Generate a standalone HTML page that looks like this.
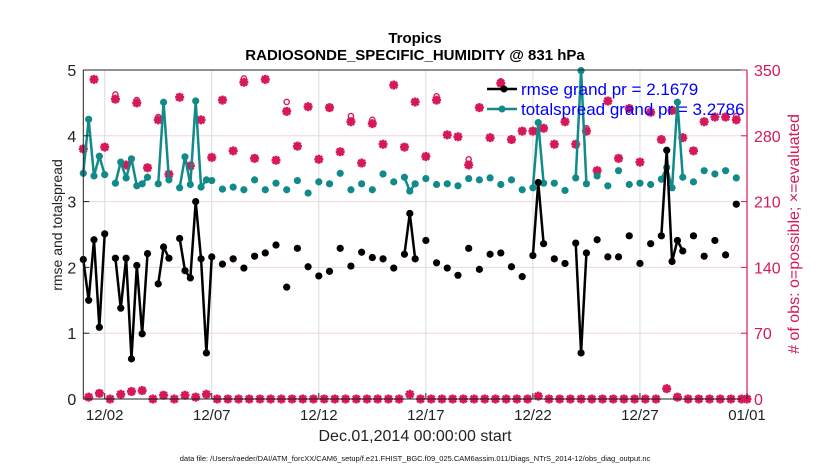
<!DOCTYPE html>
<html><head><meta charset="utf-8"><style>
body{margin:0;background:#fff;width:830px;height:470px;overflow:hidden}
svg{font-family:"Liberation Sans",sans-serif}
</style></head><body>
<svg id="chart" width="830" height="470" xmlns="http://www.w3.org/2000/svg">
<text x="415" y="43" text-anchor="middle" font-size="15" font-weight="bold">Tropics</text>
<text x="415" y="60" text-anchor="middle" font-size="15" font-weight="bold">RADIOSONDE_SPECIFIC_HUMIDITY @ 831 hPa</text>
<g id="grid"></g>
<g id="marks"></g>
<g id="axes"></g>
<text transform="translate(62,225) rotate(-90)" text-anchor="middle" font-size="14" fill="#222">rmse and totalspread</text>
<text transform="translate(799,234) rotate(-90)" text-anchor="middle" font-size="16" fill="#d6185a"># of obs: o=possible; ×=evaluated</text>
<text x="415" y="441" text-anchor="middle" font-size="16" fill="#222">Dec.01,2014 00:00:00 start</text>
<text x="415" y="461" text-anchor="middle" font-size="7.5" fill="#111">data file: /Users/raeder/DAI/ATM_forcXX/CAM6_setup/f.e21.FHIST_BGC.f09_025.CAM6assim.011/Diags_NTrS_2014-12/obs_diag_output.nc</text>
<g>
<line x1="487" y1="89" x2="517" y2="89" stroke="#000" stroke-width="2.5"/>
<circle cx="504" cy="89" r="3.5" fill="#000"/>
<text x="521" y="95" font-size="17" fill="#0000ff">rmse grand pr = 2.1679</text>
<line x1="487" y1="109" x2="517" y2="109" stroke="#138a8a" stroke-width="2.5"/>
<circle cx="502" cy="109" r="3.5" fill="#138a8a"/>
<text x="521" y="115" font-size="17" fill="#0000ff">totalspread grand pr = 3.2786</text>
</g>
</svg>
<script>
const times=[0,1,2,3,4,6,7,8,9,10,11,12,14,15,16,18,19,20,21,22,23,24,26,28,30,32,34,36,38,40,42,44,46,48,50,52,54,56,58,60,61,62,64,66,68,70,72,74,76,78,80,82,84,85,86,88,90,92,93,94,96,98,100,102,104,106,108,109,110,111,112,114,116,118,120,122];
const rmse=[2.12,1.50,2.42,1.09,2.51,2.14,1.38,2.14,0.61,2.03,0.99,2.21,1.75,2.31,2.14,2.44,1.95,1.84,3.00,2.13,0.70,2.16,2.05,2.13,1.99,2.17,2.22,2.34,1.70,2.29,2.01,1.87,1.94,2.29,2.02,2.23,2.15,2.13,1.99,2.20,2.82,2.13,2.41,2.07,1.99,1.88,2.29,1.97,2.20,2.22,2.01,1.86,2.18,3.29,2.36,2.13,2.06,2.37,0.70,2.22,2.42,2.16,2.16,2.48,2.06,2.36,2.48,3.78,2.09,2.41,2.25,2.48,2.17,2.41,2.19,2.96];
const spread=[3.43,4.25,3.39,3.69,3.41,3.28,3.60,3.36,3.65,3.24,3.27,3.37,3.27,4.51,3.33,3.21,3.68,3.26,4.53,3.22,3.33,3.32,3.19,3.22,3.18,3.33,3.18,3.28,3.18,3.32,3.13,3.30,3.27,3.43,3.18,3.27,3.18,3.42,3.30,3.37,3.16,3.27,3.35,3.26,3.27,3.24,3.35,3.33,3.36,3.26,3.33,3.18,3.21,4.20,3.28,3.28,3.17,3.36,4.99,3.27,3.39,3.24,3.47,3.26,3.28,3.26,3.34,3.52,3.21,4.51,3.37,3.30,3.47,3.42,3.47,3.36];
// obs counts at 00Z/12Z (even steps 0..124) and 06Z/18Z (odd steps 1..123)
const evalEven=[266,340,268,319,249,315,246,297,239,321,248,297,257,318,264,337,256,340,254,306,269,311,255,310,263,295,251,293,271,334,268,316,258,318,281,279,249,310,278,336,276,285,285,288,271,295,271,285,243,317,256,309,252,305,276,307,278,264,295,300,300,297,0];
const possEven=[266,340,268,324,249,318,246,300,239,321,248,297,257,318,264,341,256,340,254,316,269,311,255,310,263,301,251,297,271,334,268,316,258,322,281,279,255,310,278,338,276,285,285,288,271,295,271,288,243,317,256,309,252,305,276,307,278,264,295,300,300,301,0];
const evalOdd=[2,6,0,5,8,9,0,4,0,4,2,5,0,0,0,0,0,0,0,0,0,0,0,0,0,0,0,0,0,0,5,0,0,0,0,0,0,0,0,0,0,0,3,0,0,0,0,0,0,0,0,0,0,0,11,2,0,0,0,0,0,0];
const yTicks=[0,1,2,3,4,5];
const rTicks=[0,70,140,210,280,350];
const xTickSteps=[4,24,44,64,84,104,124];
const xTickLabels=["12/02","12/07","12/12","12/17","12/22","12/27","01/01"];

const L=83.3,R=747,T=70,B=399,NS=4*31;
const x=s=>L+s*(R-L)/NS;
const y=v=>B-v*(B-T)/5;
const yr=c=>B-c*(B-T)/350;
const NS_="http://www.w3.org/2000/svg";
function mk(parent,tag,attrs){const e=document.createElementNS(NS_,tag);for(const k in attrs)e.setAttribute(k,attrs[k]);parent.appendChild(e);return e;}
const grid=document.getElementById('grid'),marks=document.getElementById('marks'),axes=document.getElementById('axes');

yTicks.forEach(v=>{if(v>0&&v<5){const g=mk(grid,'line',{x1:L,x2:R,y1:y(v),y2:y(v),stroke:'#efd5e0','stroke-width':1});

}});
xTickSteps.forEach(s=>{const g=mk(grid,'line',{x1:x(s),x2:x(s),y1:T,y2:B,stroke:'#dcdcdc','stroke-width':1});

});

function series(vals,color,name){
  const grp=mk(marks,'g',{});
  
  
  for(let i=1;i<times.length;i++){
    if(times[i]-times[i-1]===1){
      const ln=mk(grp,'line',{x1:x(times[i-1]),y1:y(vals[i-1]),x2:x(times[i]),y2:y(vals[i]),stroke:color,'stroke-width':2.5});
      
      
    }
  }
  times.forEach((t,i)=>{const c=mk(grp,'circle',{cx:x(t),cy:y(vals[i]),r:3.6,fill:color});
  
  });
}
function star(g,cx,cy){
  const p=mk(g,'path',{d:`M${cx-4.5},${cy}H${cx+4.5}M${cx},${cy-4.5}V${cy+4.5}M${cx-3.3},${cy-3.3}L${cx+3.3},${cy+3.3}M${cx-3.3},${cy+3.3}L${cx+3.3},${cy-3.3}`,stroke:'#d6185a','stroke-width':2.6,fill:'none'});
  
  
  const d=mk(g,'circle',{cx:cx,cy:cy,r:3,fill:'#d6185a'});
  
  
}
const obsG=mk(marks,'g',{});


evalEven.forEach((c,i)=>{const s=2*i;
  const o=mk(obsG,'circle',{cx:x(s),cy:yr(possEven[i]),r:2.6,fill:'none',stroke:'#d6185a','stroke-width':1.4});
  
  
  star(obsG,x(s),yr(c));});
evalOdd.forEach((c,i)=>{const s=2*i+1;star(obsG,x(s),yr(c));});
series(spread,'#138a8a','totalspread');
series(rmse,'#000','rmse');

// axes
const frame=mk(axes,'path',{d:`M${L},${T}H${R}M${L},${T}V${B}H${R}`,stroke:'#222','stroke-width':1,fill:'none'});


const ra=mk(axes,'line',{x1:R,x2:R,y1:T,y2:B,stroke:'#d6185a','stroke-width':1.2});


yTicks.forEach(v=>{
  const t=mk(axes,'line',{x1:L,x2:L+6,y1:y(v),y2:y(v),stroke:'#222'});
  
  
  const tx=mk(axes,'text',{x:L-7,y:y(v)+6,'text-anchor':'end','font-size':16,fill:'#222'});tx.textContent=v;
  
  
});
rTicks.forEach(v=>{
  const t=mk(axes,'line',{x1:R-6,x2:R,y1:yr(v),y2:yr(v),stroke:'#d6185a'});
  
  
  const tx=mk(axes,'text',{x:R+7,y:yr(v)+6,'font-size':16,fill:'#d6185a'});tx.textContent=v;
  
  
});
xTickSteps.forEach((s,i)=>{
  const t=mk(axes,'line',{x1:x(s),x2:x(s),y1:B,y2:B-6,stroke:'#222'});
  
  
  const tx=mk(axes,'text',{x:x(s),y:B+21,'text-anchor':'middle','font-size':15,fill:'#222'});tx.textContent=xTickLabels[i];
  
  
});
</script>
</body></html>
